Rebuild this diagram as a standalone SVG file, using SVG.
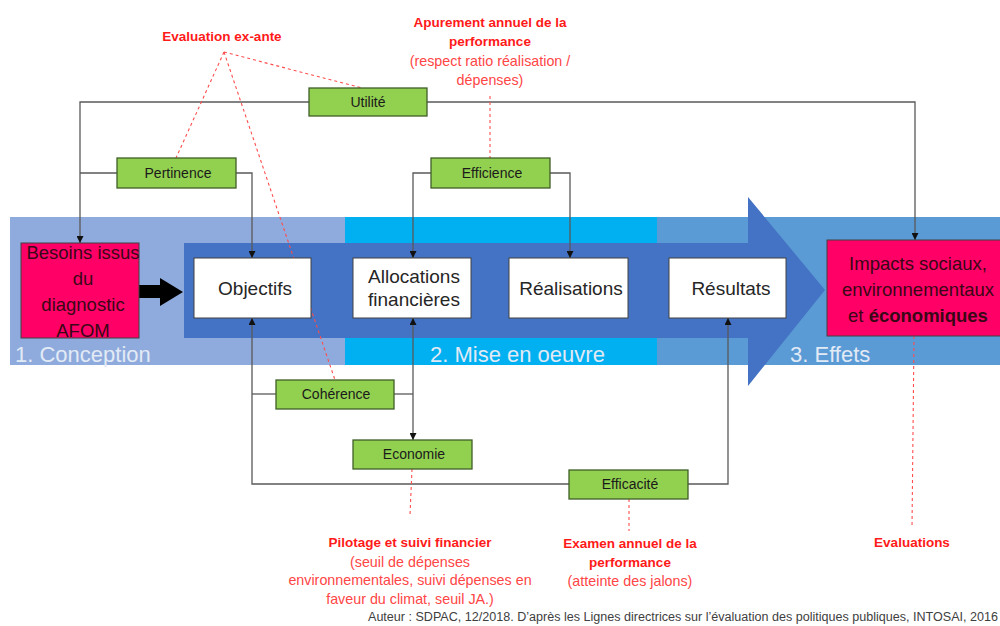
<svg xmlns="http://www.w3.org/2000/svg" width="1000" height="626" viewBox="0 0 1000 626">
<defs>
<marker id="ah" viewBox="0 0 10 10" refX="10" refY="5" markerWidth="7" markerHeight="7" markerUnits="userSpaceOnUse" orient="auto-start-reverse">
<path d="M0,0 L10,5 L0,10 z" fill="#111"/>
</marker>
<style>
text{font-family:"Liberation Sans",Arial,sans-serif}
.band{font-size:22px;fill:#e2eaf6}
.wb{fill:#fff;stroke:#404040;stroke-width:1}
.wt{font-size:19px;fill:#262626;text-anchor:middle}
.gb{fill:#92D050;stroke:#3f5f28;stroke-width:1.3}
.gt{font-size:14px;fill:#1a1a1a;text-anchor:middle}
.pk{fill:#FF0066;stroke:#404040;stroke-width:1}
.pt{font-size:18.5px;fill:#3a0716;text-anchor:middle}
.c{fill:none;stroke:#595959;stroke-width:1.3}
.d{fill:none;stroke:#ff4d4d;stroke-width:1.1;stroke-dasharray:3,3}
.rb{font-size:13.5px;font-weight:bold;fill:#ff1a1a;text-anchor:middle}
.rn{font-size:14.3px;fill:#ff4545;text-anchor:middle}
</style>
</defs>
<rect width="1000" height="626" fill="#fff"/>
<g id="bands">
<rect x="10" y="217" width="336" height="148" fill="#8FAADC"/>
<rect x="345" y="217" width="313" height="148" fill="#00B0F0"/>
<rect x="657" y="217" width="343" height="148" fill="#5B9BD5"/>
<polygon points="184,243 748,243 748,197 825,290 748,386 748,338 184,338" fill="#4472C4"/>
<text class="band" x="15" y="362">1. Conception</text>
<text class="band" x="430" y="362">2. Mise en oeuvre</text>
<text class="band" x="790" y="362">3. Effets</text>
</g>
<g id="connectors">
<polyline class="c" points="309,102 80,102 80,243" marker-end="url(#ah)"/>
<polyline class="c" points="427,102 915,102 915,240" marker-end="url(#ah)"/>
<line class="c" x1="80" y1="173" x2="117" y2="173"/>
<polyline class="c" points="236,173 252,173 252,258" marker-end="url(#ah)"/>
<polyline class="c" points="431,173 413,173 413,258" marker-end="url(#ah)"/>
<polyline class="c" points="550,173 570,173 570,258" marker-end="url(#ah)"/>
<polyline class="c" points="569,484 252,484 252,318" marker-end="url(#ah)"/>
<polyline class="c" points="688,484 728,484 728,318" marker-end="url(#ah)"/>
<line class="c" x1="252" y1="394" x2="276" y2="394"/>
<line class="c" x1="394" y1="394" x2="413" y2="394"/>
<line class="c" x1="413" y1="318" x2="413" y2="440" marker-start="url(#ah)" marker-end="url(#ah)"/>
<path d="M139,285 L160,285 L160,278 L183,292 L160,306 L160,298 L139,298 Z" fill="#000"/>
<line class="d" x1="224" y1="52" x2="176" y2="158"/>
<line class="d" x1="224" y1="52" x2="362" y2="88"/>
<line class="d" x1="224" y1="52" x2="335" y2="380"/>
<line class="d" x1="490" y1="96" x2="490" y2="158"/>
<line class="d" x1="412" y1="469" x2="410" y2="515"/>
<line class="d" x1="629" y1="499" x2="629" y2="531"/>
<line class="d" x1="914" y1="336" x2="912" y2="528"/>
</g>
<g id="besoins">
<rect class="pk" x="21" y="243" width="118" height="95"/>
<text class="pt" x="83" y="259">Besoins issus</text>
<text class="pt" x="83" y="285">du</text>
<text class="pt" x="83" y="311">diagnostic</text>
<text class="pt" x="83" y="337">AFOM</text>
</g>
<g id="objectifs">
<rect class="wb" x="194" y="258" width="117" height="60"/>
<text class="wt" x="255" y="295">Objectifs</text>
</g>
<g id="allocations">
<rect class="wb" x="353" y="258" width="118" height="60"/>
<text class="wt" x="414" y="283">Allocations</text>
<text class="wt" x="414" y="306">financières</text>
</g>
<g id="realisations">
<rect class="wb" x="509" y="258" width="119" height="60"/>
<text class="wt" x="571" y="295">Réalisations</text>
</g>
<g id="resultats">
<rect class="wb" x="669" y="258" width="117" height="60"/>
<text class="wt" x="731" y="295">Résultats</text>
</g>
<g id="impacts">
<rect class="pk" x="827" y="240" width="180" height="96"/>
<text class="pt" x="918" y="270">Impacts sociaux,</text>
<text class="pt" x="918" y="296">environnementaux</text>
<text class="pt" x="918" y="322">et <tspan font-weight="bold">économiques</tspan></text>
</g>
<g id="utilite"><rect class="gb" x="309" y="88" width="118" height="28"/><text class="gt" x="368" y="107">Utilité</text></g>
<g id="pertinence"><rect class="gb" x="117" y="158" width="119" height="30"/><text class="gt" x="178" y="178">Pertinence</text></g>
<g id="efficience"><rect class="gb" x="431" y="158" width="119" height="30"/><text class="gt" x="492" y="178">Efficience</text></g>
<g id="coherence"><rect class="gb" x="276" y="380" width="118" height="29"/><text class="gt" x="336" y="399">Cohérence</text></g>
<g id="economie"><rect class="gb" x="353" y="440" width="119" height="29"/><text class="gt" x="414" y="459">Economie</text></g>
<g id="efficacite"><rect class="gb" x="569" y="470" width="119" height="29"/><text class="gt" x="630" y="489">Efficacité</text></g>
<g id="labels">
<text class="rb" x="222" y="41">Evaluation ex-ante</text>
<text class="rb" x="490" y="27">Apurement annuel de la</text>
<text class="rb" x="490" y="46">performance</text>
<text class="rn" x="490" y="66">(respect ratio réalisation /</text>
<text class="rn" x="490" y="85">dépenses)</text>
<text class="rb" x="410" y="547">Pilotage et suivi financier</text>
<text class="rn" x="410" y="567">(seuil de dépenses</text>
<text class="rn" x="410" y="585">environnementales, suivi dépenses en</text>
<text class="rn" x="410" y="604">faveur du climat, seuil JA.)</text>
<text class="rb" x="630" y="548">Examen annuel de la</text>
<text class="rb" x="630" y="567">performance</text>
<text class="rn" x="630" y="586">(atteinte des jalons)</text>
<text class="rb" x="912" y="547">Evaluations</text>
<text x="998" y="621" font-size="12" fill="#404040" text-anchor="end" textLength="630" lengthAdjust="spacingAndGlyphs">Auteur  : SDPAC, 12/2018. D’après les Lignes directrices sur l’évaluation des politiques publiques, INTOSAI, 2016</text>
</g>
</svg>
